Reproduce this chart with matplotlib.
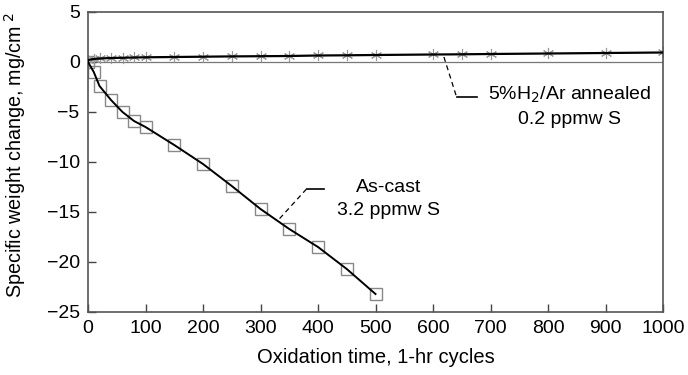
import matplotlib
matplotlib.use("Agg")
import matplotlib.pyplot as plt
import numpy as np

plt.rcParams['font.family'] = ['Liberation Sans', 'DejaVu Sans']

# As-cast, 3.2 ppmw S
cast_t = [0, 10, 20, 40, 60, 80, 100, 150, 200, 250, 300, 350, 400, 450, 500]
cast_w = [0.0, -1.0, -2.4, -3.8, -5.0, -5.9, -6.5, -8.3, -10.2, -12.4, -14.7, -16.7, -18.5, -20.7, -23.2]

# 5%H2/Ar annealed, 0.2 ppmw S
ann_t = [0, 10, 20, 40, 60, 80, 100, 150, 200, 250, 300, 350, 400, 450, 500, 600, 650, 700, 800, 900, 1000]
ann_w = [0.2, 0.3, 0.35, 0.4, 0.42, 0.45, 0.47, 0.5, 0.53, 0.56, 0.58, 0.6, 0.65, 0.67, 0.7, 0.75, 0.77, 0.8, 0.85, 0.9, 0.95]

xticks = [0, 100, 200, 300, 400, 500, 600, 700, 800, 900, 1000]
yticks = [5, 0, -5, -10, -15, -20, -25]

fig = plt.figure(figsize=(6.88, 3.75), dpi=100)
ax = fig.add_axes([88/688, 1-312/375, (663-88)/688, 300/375])

ax.axhline(0, color='#777777', lw=0.9, zorder=1)

ax.plot(cast_t, cast_w, color='black', lw=1.4, zorder=3)
ax.plot(cast_t, cast_w, ls='none', marker='s', ms=9, mfc='none', mec='#888888', mew=1.0, zorder=2)

ax.plot(ann_t, ann_w, color='black', lw=1.6, zorder=3)
ax.plot(ann_t, ann_w, ls='none', marker=(6, 2, 0), ms=8, mec='#999999', mew=0.8, zorder=2)

ax.set_xlim(0, 1000)
ax.set_ylim(-25, 5)
ax.set_xticks(xticks)
ax.set_yticks(yticks)
ax.set_yticklabels([str(v).replace('-', '\u2212') for v in yticks])
ax.tick_params(direction='in', length=6, width=1, labelsize=14, color='#444444', pad=6)
for s in ax.spines.values():
    s.set_color('#555555')
    s.set_linewidth(1.2)

ax.set_xlabel('Oxidation time, 1-hr cycles', fontsize=14.5, labelpad=8)
ax.set_ylabel('Specific weight change, mg/cm$^{\\ 2}$', fontsize=14.2)
ax.yaxis.set_label_coords(-0.104, 0.523)

# As-cast annotation
ax.plot([380, 411], [-12.7, -12.7], color='black', lw=1.2)
ax.plot([380, 331], [-12.7, -15.8], color='black', lw=0.9, ls=(0, (4, 3)))
ax.text(522, -12.6, 'As-cast', fontsize=14, ha='center', va='center')
ax.text(522, -14.9, '3.2 ppmw S', fontsize=14, ha='center', va='center')

# Annealed annotation
ax.plot([619, 641], [0.5, -3.5], color='black', lw=0.9, ls=(0, (4, 3)))
ax.plot([641, 676], [-3.5, -3.5], color='black', lw=1.2)
ax.text(838, -3.3, '5%H$_2$/Ar annealed', fontsize=14, ha='center', va='center')
ax.text(838, -5.8, '0.2 ppmw S', fontsize=14, ha='center', va='center')

fig.savefig('out.png', dpi=100)
